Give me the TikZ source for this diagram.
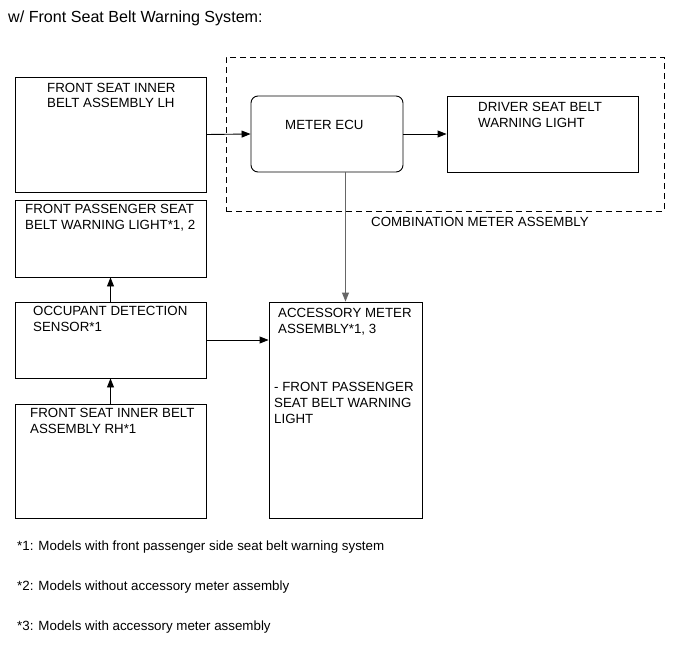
\documentclass[tikz,border=0pt]{standalone}
\usepackage{fontspec}
\setmainfont{Liberation Sans}
\usetikzlibrary{arrows.meta}
\begin{document}
\begin{tikzpicture}[x=1pt,y=-1pt,
  box/.style={draw=black,line width=0.9pt,rectangle,inner sep=0pt},
  rbox/.style={box,rounded corners=7pt},
  dbox/.style={draw=black,line width=0.9pt,dash pattern=on 6pt off 4pt,inner sep=0pt},
  lbl/.style={anchor=north west,inner sep=0pt,align=left,font=\fontsize{13.3}{16}\selectfont},
  note/.style={anchor=west,inner sep=0pt,font=\fontsize{13.35}{16}\selectfont},
  conn/.style={line width=0.9pt,-{Triangle[length=9pt,width=7pt]}},
  gconn/.style={conn,draw=gray!80!black}]
\useasboundingbox (0,0) rectangle (691,659);
\node[anchor=west,inner sep=0pt,font=\fontsize{16.1}{19}\selectfont] (title) at (8,18) {w/ Front Seat Belt Warning System:};
% combination meter frame
\node[dbox,minimum width=438,minimum height=154] (comb) at (445,134) {};
\node[note,font=\fontsize{13.3}{16}\selectfont] (combl) at (371,222) {COMBINATION METER ASSEMBLY};
% boxes
\node[box,minimum width=191,minimum height=115] (lh) at (110.5,134.5) {};
\node[box,minimum width=191,minimum height=77] (pass) at (110.5,238.5) {};
\node[box,minimum width=191,minimum height=76] (occ) at (110.5,340) {};
\node[box,minimum width=191,minimum height=114] (rh) at (110.5,461) {};
\node[rbox,minimum width=152,minimum height=76] (ecu) at (327,134) {};
\node[box,minimum width=191,minimum height=76] (drv) at (542.5,134) {};
\node[box,minimum width=153,minimum height=216] (acc) at (345.5,410) {};
% texts
\node[lbl,font=\fontsize{13.3}{14.7}\selectfont] (lht) at (47,83.2) {FRONT SEAT INNER\\BELT ASSEMBLY LH};
\node[lbl,font=\fontsize{13.3}{15.5}\selectfont] (passt) at (25,204.3) {FRONT PASSENGER SEAT\\BELT WARNING LIGHT*1, 2};
\node[lbl] (occt) at (33,306.3) {OCCUPANT DETECTION\\SENSOR*1};
\node[lbl] (rht) at (30,408.3) {FRONT SEAT INNER BELT\\ASSEMBLY RH*1};
\node[lbl] (ecut) at (285,120.3) {METER ECU};
\node[lbl] (drvt) at (478,102.3) {DRIVER SEAT BELT\\WARNING LIGHT};
\node[lbl] (acct1) at (278,308.3) {ACCESSORY METER\\ASSEMBLY*1, 3};
\node[lbl] (acct2) at (274,382.3) {- FRONT PASSENGER\\SEAT BELT WARNING\\LIGHT};
% footnotes
\node[note] (n1) at (17,547) {*1: Models with front passenger side seat belt warning system};
\node[note] (n2) at (17,587) {*2: Models without accessory meter assembly};
\node[note] (n3) at (17,627) {*3: Models with accessory meter assembly};
% connectors
\draw[conn] (lh.east) -- (ecu.west);
\draw[conn] (ecu.east) -- (drv.west);
\draw[gconn] (ecu.south -| acc.north) -- (acc.north);
\draw[conn] (occ.east) -- (acc.west |- occ.east);
\draw[conn] (occ.north) -- (pass.south);
\draw[conn] (rh.north) -- (occ.south);
\end{tikzpicture}
\end{document}
